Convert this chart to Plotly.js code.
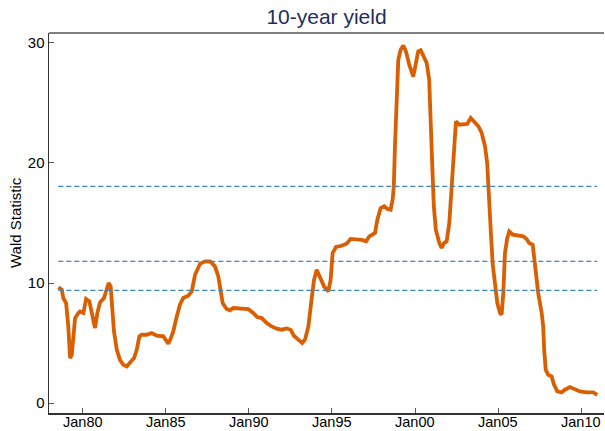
<!DOCTYPE html>
<html>
<head>
<meta charset="utf-8">
<script src="https://cdn.plot.ly/plotly-3.0.1.min.js"></script>
<style>html,body{margin:0;padding:0;background:#fff;}#chart{width:605px;height:431px;}</style>
</head>
<body>
<div id="chart"></div>
<script>
// Decimal years and Wald statistic values
const years = [1978.53,1978.74,1978.83,1979.00,1979.13,1979.24,1979.34,1979.54,1979.74,1979.84,1980.04,1980.20,1980.40,1980.60,1980.74,1980.88,1981.04,1981.28,1981.40,1981.56,1981.68,1981.76,1981.88,1982.05,1982.24,1982.44,1982.65,1982.85,1983.09,1983.25,1983.41,1983.55,1983.85,1984.15,1984.45,1984.85,1985.15,1985.30,1985.45,1985.66,1985.85,1986.05,1986.35,1986.56,1986.76,1987.06,1987.36,1987.66,1987.96,1988.16,1988.30,1988.42,1988.66,1988.86,1989.06,1989.36,1989.66,1989.96,1990.26,1990.50,1990.77,1991.07,1991.37,1991.67,1991.97,1992.27,1992.51,1992.71,1992.97,1993.21,1993.38,1993.58,1993.75,1993.92,1994.08,1994.28,1994.52,1994.78,1994.92,1995.04,1995.24,1995.58,1995.88,1996.12,1996.49,1996.79,1997.05,1997.25,1997.59,1997.73,1997.93,1998.14,1998.33,1998.53,1998.65,1998.72,1998.79,1998.89,1998.99,1999.13,1999.29,1999.45,1999.65,1999.89,2000.05,2000.19,2000.34,2000.50,2000.70,2000.85,2000.94,2001.03,2001.13,2001.25,2001.46,2001.60,2001.74,2001.90,2002.06,2002.16,2002.30,2002.46,2002.66,2002.90,2003.14,2003.35,2003.55,2003.81,2004.01,2004.21,2004.34,2004.47,2004.57,2004.67,2004.81,2004.95,2005.11,2005.21,2005.31,2005.41,2005.55,2005.67,2005.88,2006.21,2006.51,2006.71,2006.87,2007.08,2007.21,2007.41,2007.62,2007.71,2007.77,2007.86,2008.01,2008.22,2008.36,2008.56,2008.82,2009.02,2009.32,2009.62,2009.92,2010.32,2010.72,2010.96];
const wald = [9.63,9.44,8.75,8.33,6.38,3.75,4.0,7.08,7.5,7.63,7.5,8.67,8.47,6.94,6.25,7.5,8.38,8.75,9.3,10.0,9.72,7.78,5.97,4.44,3.6,3.19,3.05,3.38,3.75,4.44,5.55,5.69,5.69,5.83,5.61,5.55,4.95,5.4,5.97,7.22,8.19,8.75,8.94,9.3,10.69,11.6,11.8,11.8,11.39,10.55,9.44,8.33,7.83,7.72,7.92,7.89,7.92,7.83,7.5,7.17,7.08,6.67,6.38,6.19,6.11,6.22,6.11,5.61,5.28,5.0,5.3,6.38,8.4,10.27,11.1,10.55,9.72,9.3,10.27,12.5,13.0,13.1,13.28,13.67,13.67,13.6,13.47,13.89,14.17,15.28,16.25,16.39,16.17,16.11,16.94,18.05,21.4,25.56,28.6,29.44,29.78,29.3,28.19,27.2,28.47,29.3,29.39,28.89,28.33,26.94,24.17,20.0,16.39,14.44,13.33,12.92,13.33,13.47,15.0,17.22,20.83,23.47,23.19,23.19,23.25,23.75,23.47,23.06,22.5,21.39,20.0,17.22,14.0,11.6,10.0,8.33,7.5,7.36,9.17,12.5,13.75,14.3,14.03,13.94,13.89,13.67,13.33,13.19,11.39,9.17,7.5,6.38,4.44,2.78,2.36,2.22,1.53,0.97,0.89,1.11,1.33,1.17,0.97,0.89,0.89,0.69];
// Critical values (dashed lines)
const criticalValues = [9.38, 11.8, 18.05];
// Tick positions and labels
const tickYears = [1980, 1985, 1990, 1995, 2000, 2005, 2010];
const tickLabels = ["Jan80", "Jan85", "Jan90", "Jan95", "Jan00", "Jan05", "Jan10"];
const yTicks = [0, 10, 20, 30];

const xStart = years[0];
const xEnd = years[years.length - 1];
const FONT = 'Liberation Sans, Arial, sans-serif';

const traces = [{
  x: years, y: wald, type: 'scatter', mode: 'lines',
  line: {color: '#d95f02', width: 3.8}, hoverinfo: 'skip', showlegend: false
}];
criticalValues.forEach(v => {
  traces.push({
    x: [xStart, xEnd], y: [v, v], type: 'scatter', mode: 'lines',
    line: {color: '#3a87c0', width: 1.3, dash: '5px,3px'}, hoverinfo: 'skip', showlegend: false
  });
});

const annotations = tickYears.map((yr, i) => ({
  x: yr, xref: 'x', y: 0, yref: 'paper', yanchor: 'top', xanchor: 'center',
  yshift: 0, borderpad: 0, text: tickLabels[i], showarrow: false,
  font: {size: 14.5, color: '#000', family: FONT}
}));
annotations.push({
  x: 0, xref: 'paper', xshift: -34, xanchor: 'center', y: 0.5, yref: 'paper', yanchor: 'middle',
  text: 'Wald Statistic', textangle: -90, showarrow: false,
  font: {size: 15, color: '#000', family: FONT}
});

const layout = {
  width: 605, height: 431,
  margin: {l: 49, r: 1, t: 33, b: 18, pad: 0},
  paper_bgcolor: '#fff', plot_bgcolor: '#fff',
  font: {family: FONT, color: '#000'},
  title: {text: '10-year yield', font: {size: 21, color: '#1f2d5c', family: FONT},
          xref: 'paper', x: 0.5, xanchor: 'center', yref: 'container', y: 0.962, yanchor: 'middle'},
  xaxis: {
    range: [1977.97, 2011.37], tickmode: 'array', tickvals: tickYears, showticklabels: false,
    showgrid: false, zeroline: false, showline: true, linecolor: '#333', linewidth: 1.5,
    ticks: 'inside', ticklen: 5, tickwidth: 1, tickcolor: '#555', automargin: false
  },
  yaxis: {
    range: [-0.83, 30.83], tickmode: 'array', tickvals: yTicks,
    showgrid: false, zeroline: false, showline: true, linecolor: '#333', linewidth: 1.5,
    ticks: 'inside', ticklen: 5, tickwidth: 1, tickcolor: '#555',
    tickfont: {size: 15, color: '#000'}, automargin: false
  },
  annotations: annotations,
  shapes: [{type: 'line', xref: 'paper', yref: 'paper', x0: 0, x1: 1, y0: 1, y1: 1,
            line: {color: '#808080', width: 2}}]
};

Plotly.newPlot('chart', traces, layout, {displayModeBar: false, staticPlot: true});
</script>
</body>
</html>
